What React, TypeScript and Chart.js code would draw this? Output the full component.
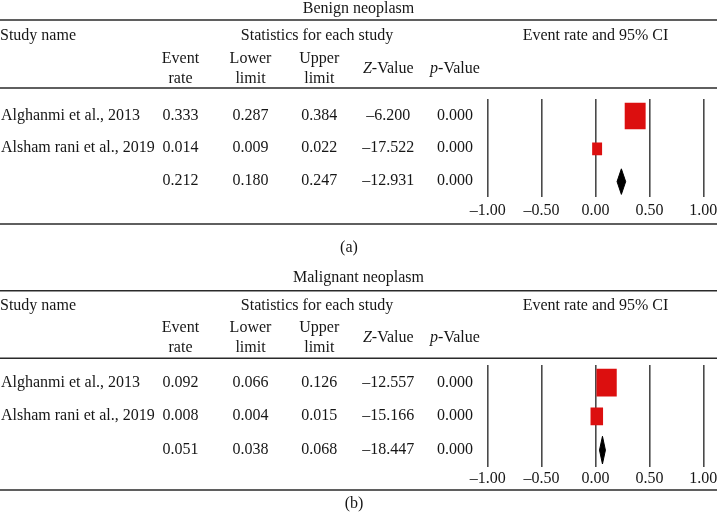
import React, { useEffect, useRef } from "react";
import { Chart, registerables } from "chart.js";

Chart.register(...registerables);

// ---------------- data ----------------
const studyNames = ["Alghanmi et al., 2013", "Alsham rani et al., 2019"];
const axisTicks = [-1, -0.5, 0, 0.5, 1];

// Benign neoplasm
const benignRate = [0.333, 0.014, 0.212];
const benignLower = [0.287, 0.009, 0.18];
const benignUpper = [0.384, 0.022, 0.247];
const benignZ = [-6.2, -17.522, -12.931];
const benignP = [0.0, 0.0, 0.0];
const benignBoxLow = [0.274, -0.028];
const benignBoxHigh = [0.462, 0.058];
const benignDiamond = [0.2, 0.28];

// Malignant neoplasm
const malignantRate = [0.092, 0.008, 0.051];
const malignantLower = [0.066, 0.004, 0.038];
const malignantUpper = [0.126, 0.015, 0.068];
const malignantZ = [-12.557, -15.166, -18.447];
const malignantP = [0.0, 0.0, 0.0];
const malignantBoxLow = [0.012, -0.043];
const malignantBoxHigh = [0.194, 0.067];
const malignantDiamond = [0.037, 0.092];

// ---------------- styles / layout ----------------
const W = 717;
const FAMILY = '"Liberation Serif", "Times New Roman", serif';
const FS = 16;
const FONT = `${FS}px ${FAMILY}`;
const IFONT = `italic ${FS}px ${FAMILY}`;
const TEXT = "#161616";
const RULE = "#2a2a2a";
const GRID = "#4a4a4a";
const RED = "#dc0f0f";

const COL = { rate: 180.5, lower: 250.5, upper: 319.3, z: 388.3, p: 455, stats: 317, plot: 595.5 };
const PLOT_LEFT = 487.7;
const PLOT_RIGHT = 703.3;

type Layout = {
  height: number; top: number; titleBase: number; topLine: number; headBase: number;
  line1Base: number; line2Base: number; zpBase: number; headerLine: number;
  plotTop: number; plotBottom: number; yMin: number; yMax: number; tickPad: number;
  bottomLine: number; captionBase: number; captionX: number; rowTextOffset: number;
  boxHeights: number[]; diamondHalf: number;
};

const LAYOUT_A: Layout = {
  height: 269, top: 0, titleBase: 13.3, topLine: 20, headBase: 40, line1Base: 62.7, line2Base: 82.7,
  zpBase: 72.7, headerLine: 88, plotTop: 99, plotBottom: 197, yMin: -0.52, yMax: 2.47, tickPad: 4,
  bottomLine: 224, captionBase: 252, captionX: 349, rowTextOffset: 3.5, boxHeights: [26, 12], diamondHalf: 0.39,
};
const LAYOUT_B: Layout = {
  height: 251, top: 269, titleBase: 12.7, topLine: 21.7, headBase: 41, line1Base: 62.7, line2Base: 82.7,
  zpBase: 72.7, headerLine: 89.3, plotTop: 96, plotBottom: 197.7, yMin: -0.52, yMax: 2.49, tickPad: 2,
  bottomLine: 221, captionBase: 239, captionX: 354, rowTextOffset: 4, boxHeights: [27, 17], diamondHalf: 0.41,
};

type Panel = {
  title: string; caption: string; rate: number[]; lower: number[]; upper: number[]; z: number[]; p: number[];
  boxLow: number[]; boxHigh: number[]; diamond: number[]; layout: Layout;
};

const PANELS: Panel[] = [
  { title: "Benign neoplasm", caption: "(a)", rate: benignRate, lower: benignLower, upper: benignUpper, z: benignZ, p: benignP,
    boxLow: benignBoxLow, boxHigh: benignBoxHigh, diamond: benignDiamond, layout: LAYOUT_A },
  { title: "Malignant neoplasm", caption: "(b)", rate: malignantRate, lower: malignantLower, upper: malignantUpper, z: malignantZ, p: malignantP,
    boxLow: malignantBoxLow, boxHigh: malignantBoxHigh, diamond: malignantDiamond, layout: LAYOUT_B },
];

const fmt = (v: number, d: number) => (v < 0 ? "\u2013" + Math.abs(v).toFixed(d) : v.toFixed(d));

function drawTable(chart: any, panel: Panel) {
  const L = panel.layout;
  const ctx: CanvasRenderingContext2D = chart.ctx;
  const yScale = chart.scales.y;
  ctx.save();
  ctx.fillStyle = TEXT;
  ctx.font = FONT;
  ctx.textBaseline = "alphabetic";
  const text = (s: string, x: number, y: number, align: CanvasTextAlign) => {
    ctx.textAlign = align;
    ctx.fillText(s, x, y);
  };
  const hline = (y: number) => {
    ctx.beginPath();
    ctx.strokeStyle = RULE;
    ctx.lineWidth = 1.6;
    ctx.moveTo(0, y);
    ctx.lineTo(W, y);
    ctx.stroke();
  };
  const italicHead = (it: string, rest: string, cx: number, y: number) => {
    ctx.font = IFONT;
    const w1 = ctx.measureText(it).width;
    ctx.font = FONT;
    const w2 = ctx.measureText(rest).width;
    const x0 = cx - (w1 + w2) / 2;
    ctx.textAlign = "left";
    ctx.font = IFONT;
    ctx.fillText(it, x0, y);
    ctx.font = FONT;
    ctx.fillText(rest, x0 + w1, y);
  };

  text(panel.title, W / 2, L.titleBase, "center");
  hline(L.topLine);
  text("Study name", 0, L.headBase, "left");
  text("Statistics for each study", COL.stats, L.headBase, "center");
  text("Event rate and 95% CI", COL.plot, L.headBase, "center");
  text("Event", COL.rate, L.line1Base, "center");
  text("rate", COL.rate, L.line2Base, "center");
  text("Lower", COL.lower, L.line1Base, "center");
  text("limit", COL.lower, L.line2Base, "center");
  text("Upper", COL.upper, L.line1Base, "center");
  text("limit", COL.upper, L.line2Base, "center");
  italicHead("Z", "-Value", COL.z, L.zpBase);
  italicHead("p", "-Value", COL.p, L.zpBase);
  hline(L.headerLine);

  for (let i = 0; i < panel.rate.length; i++) {
    const y = yScale.getPixelForValue(i) + L.rowTextOffset;
    if (i < studyNames.length) text(studyNames[i], 1, y, "left");
    text(fmt(panel.rate[i], 3), COL.rate, y, "center");
    text(fmt(panel.lower[i], 3), COL.lower, y, "center");
    text(fmt(panel.upper[i], 3), COL.upper, y, "center");
    text(fmt(panel.z[i], 3), COL.z, y, "center");
    text(fmt(panel.p[i], 3), COL.p, y, "center");
  }
  hline(L.bottomLine);
  text(panel.caption, L.captionX, L.captionBase, "center");
  ctx.restore();
}

function ForestPanel({ panel }: { panel: Panel }) {
  const ref = useRef<HTMLCanvasElement | null>(null);
  useEffect(() => {
    if (!ref.current) return;
    const L = panel.layout;
    const pooledRow = panel.rate.length - 1;
    const mid = (panel.diamond[0] + panel.diamond[1]) / 2;
    const boxSets = studyNames.map((_, i) => ({
      type: "bar" as const,
      data: [{ x: [panel.boxLow[i], panel.boxHigh[i]], y: i }],
      backgroundColor: RED,
      borderWidth: 0,
      barThickness: L.boxHeights[i],
      grouped: false,
    }));
    const diamondSet = {
      type: "line" as const,
      data: [
        { x: panel.diamond[0], y: pooledRow },
        { x: mid, y: pooledRow - L.diamondHalf },
        { x: panel.diamond[1], y: pooledRow },
        { x: mid, y: pooledRow + L.diamondHalf },
        { x: panel.diamond[0], y: pooledRow },
      ],
      borderColor: "#000",
      backgroundColor: "#000",
      borderWidth: 1,
      pointRadius: 0,
      tension: 0,
      fill: "shape",
    };
    const plugin = {
      id: "forestTable",
      afterDraw(chart: any) {
        drawTable(chart, panel);
      },
    };
    const chart = new Chart(ref.current, {
      type: "bar",
      data: { datasets: [...boxSets, diamondSet] as any },
      options: {
        animation: false,
        responsive: false,
        events: [],
        indexAxis: "y",
        layout: { padding: { left: PLOT_LEFT, right: W - PLOT_RIGHT, top: L.plotTop, bottom: L.height - L.plotBottom - 30 } },
        plugins: { legend: { display: false }, tooltip: { enabled: false }, title: { display: false } },
        scales: {
          x: {
            type: "linear",
            min: axisTicks[0],
            max: axisTicks[axisTicks.length - 1],
            stacked: false,
            offset: false,
            afterBuildTicks: (s: any) => {
              s.ticks = axisTicks.map((v) => ({ value: v }));
            },
            afterFit: (s: any) => {
              s.height = 30;
              s.paddingLeft = 0;
              s.paddingRight = 0;
            },
            ticks: {
              color: TEXT,
              font: { family: FAMILY, size: FS },
              padding: L.tickPad,
              maxRotation: 0,
              autoSkip: false,
              callback: (v: any) => fmt(Number(v), 2),
            },
            grid: { color: GRID, lineWidth: 1.6, drawTicks: false, offset: false },
            border: { display: false },
          },
          y: {
            type: "linear",
            display: false,
            reverse: true,
            offset: false,
            min: L.yMin,
            max: L.yMax,
            grid: { offset: false },
          },
        },
      } as any,
      plugins: [plugin],
    });
    return () => chart.destroy();
  }, [panel]);
  return (
    <canvas
      ref={ref}
      width={W}
      height={panel.layout.height}
      style={{ position: "absolute", left: 0, top: panel.layout.top, width: W, height: panel.layout.height, display: "block" }}
    />
  );
}

export default function App() {
  return (
    <div style={{ position: "absolute", left: 0, top: 0, width: W, height: 520, background: "#fff" }}>
      {PANELS.map((p) => (
        <ForestPanel key={p.title} panel={p} />
      ))}
    </div>
  );
}
